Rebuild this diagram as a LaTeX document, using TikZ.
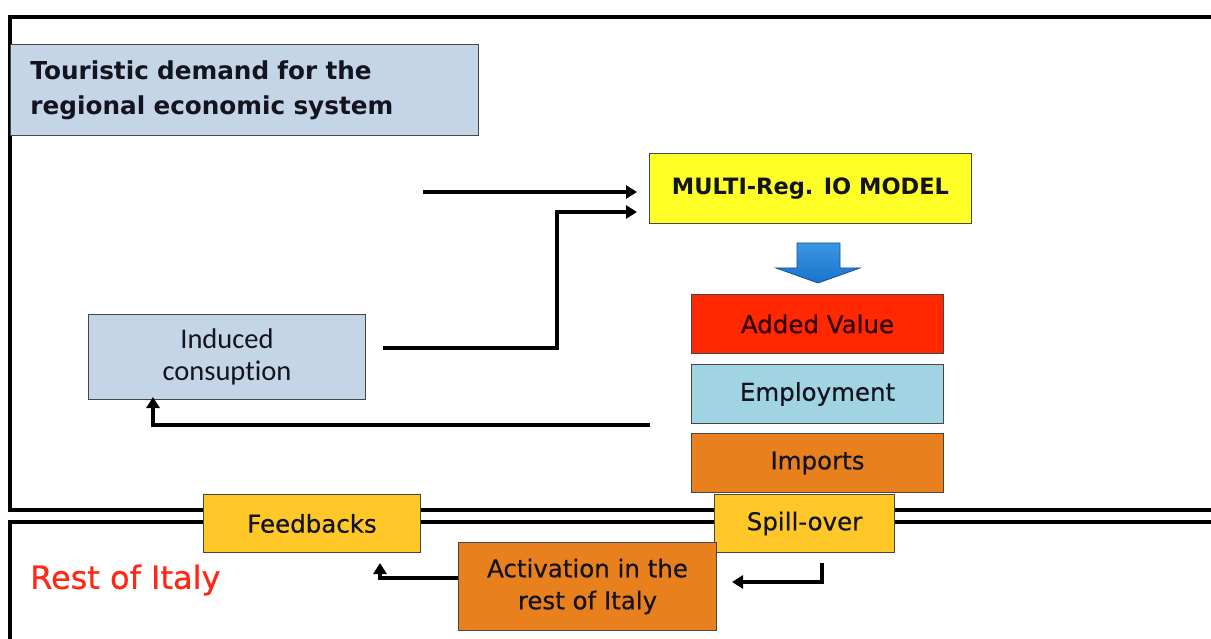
\documentclass[tikz,border=0pt]{standalone}
\usepackage{fontspec}
\setmainfont{DejaVu Sans}
\newfontfamily\calib[Ligatures=NoCommon]{Carlito}
\usetikzlibrary{arrows.meta}
\definecolor{paleblue}{RGB}{197,213,232}
\definecolor{modelyellow}{RGB}{255,255,40}
\definecolor{valred}{RGB}{255,40,0}
\definecolor{empblue}{RGB}{160,212,226}
\definecolor{imporange}{RGB}{233,128,30}
\definecolor{gold}{RGB}{255,200,40}
\definecolor{italyred}{RGB}{255,40,20}
\definecolor{boxline}{RGB}{70,70,70}
\definecolor{ink}{RGB}{20,20,30}
\definecolor{bluearrow}{RGB}{25,115,205}
\begin{document}
\begin{tikzpicture}[x=1pt,y=-1pt,
  box/.style={draw=boxline, line width=1pt, inner sep=0pt, anchor=north west,
    align=center, text=ink, font=\fontsize{24.5}{32}\selectfont\addfontfeatures{FakeBold=0.5}},
  frame/.style={line width=4pt, black},
  arr/.style={line width=4pt, black, -{Triangle[length=11pt,width=13pt]}}]
\useasboundingbox (0,0) rectangle (1211,639);
\fill[white] (0,0) rectangle (1211,639);

% regional frame and rest-of-Italy frame
\draw[frame] (1220,17) -| (10,510) -- (1220,510);
\draw[frame] (10,650) |- (1220,522);

% boxes
\node[box, fill=paleblue, minimum width=468pt, minimum height=91pt, text width=428pt,
  align=left, font=\fontsize{24.7}{35}\selectfont\bfseries] (td) at (10,44)
  {Touristic demand for the\\regional economic system};
\node[box, fill=modelyellow, minimum width=322pt, minimum height=70pt,
  font=\fontsize{22.5}{28}\selectfont\bfseries] (model) at (649,153) {MULTI-Reg. IO MODEL};
\node[box, fill=valred, minimum width=252pt, minimum height=59pt, text={rgb,255:red,50;green,0;blue,0}] (av) at (691,294) {Added Value};
\node[box, fill=empblue, minimum width=252pt, minimum height=59pt] (emp) at (691,364) {Employment};
\node[box, fill=imporange, minimum width=252pt, minimum height=59pt] (imp) at (691,433) {Imports};
\node[box, fill=gold, minimum width=180pt, minimum height=58pt] (spill) at (714,494) {Spill-over};
\node[box, fill=gold, minimum width=217pt, minimum height=58pt] (fb) at (203,494) {Feedbacks};
\node[box, fill=imporange, minimum width=258pt, minimum height=88pt] (act) at (458,542)
  {Activation in the\\rest of Italy};
\node[box, fill=paleblue, minimum width=277pt, minimum height=85pt,
  font=\calib\fontsize{28.5}{32}\selectfont] (ind) at (88,314)
  {Induced\\consuption};
\node[anchor=west, inner sep=0pt, text=italyred,
  font=\fontsize{32}{36}\selectfont\addfontfeatures{FakeBold=0.6}] (roi) at (30,580) {Rest of Italy};

% block arrow from the model to the results
\draw[draw={rgb,255:red,20;green,80;blue,150}, line width=0.8pt, top color={rgb,255:red,60;green,150;blue,225}, bottom color=bluearrow]
  (797,243) -- (840,243) -- (840,268) -- (860,268) -- (818,283) -- (776,268) -- (797,268) -- cycle;

% connectors
\coordinate (s1) at (423,192);
\coordinate (s2) at (383,348);
\coordinate (s3) at (650,425);
\coordinate (s4) at (822,563);
\draw[arr] (s1) -- ([xshift=-12pt]model.west |- s1);
\draw[arr] (s2) -| (557,212) -- ([xshift=-12pt]model.west |- 0,212);
\draw[arr] (s3) -| ([yshift=3pt]ind.south -| 153,0);
\draw[arr] (s4) |- ([xshift=15pt]act.east |- 0,582);
\draw[arr] (act.west |- 0,578) -| ([yshift=-10pt]fb.south -| 380,0);
\end{tikzpicture}
\end{document}
